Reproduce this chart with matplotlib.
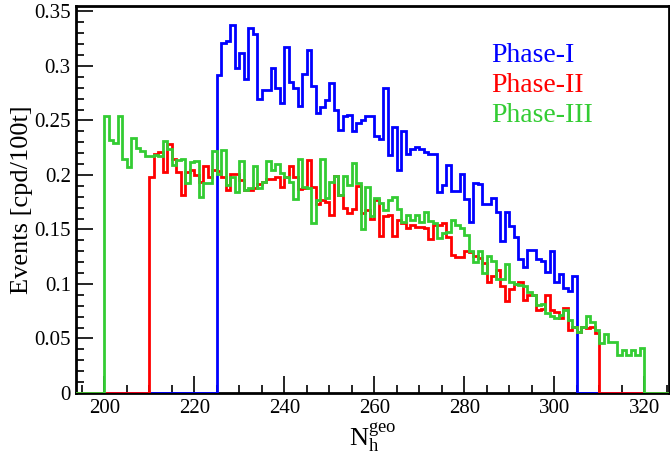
import numpy as np
import matplotlib
matplotlib.use('Agg')
from matplotlib import pyplot as plt
from matplotlib.ticker import MultipleLocator

# N_h^geo bins (width 1), values in cpd/100t
phase1_start = 225
phase1 = [0.292, 0.321, 0.323, 0.338, 0.298, 0.312, 0.288, 0.335, 0.329, 0.270,
          0.278, 0.278, 0.298, 0.280, 0.266, 0.317, 0.285, 0.280, 0.263, 0.293,
          0.315, 0.282, 0.257, 0.262, 0.269, 0.284, 0.260, 0.241, 0.254, 0.255,
          0.240, 0.248, 0.250, 0.254, 0.254, 0.236, 0.233, 0.280, 0.218, 0.244,
          0.205, 0.240, 0.219, 0.224, 0.226, 0.224, 0.221, 0.219, 0.219, 0.184,
          0.191, 0.209, 0.185, 0.185, 0.201, 0.178, 0.157, 0.193, 0.192, 0.173,
          0.173, 0.179, 0.166, 0.139, 0.166, 0.153, 0.143, 0.123, 0.116, 0.131,
          0.131, 0.123, 0.121, 0.111, 0.130, 0.102, 0.109, 0.096, 0.094, 0.107]

phase2_start = 210
phase2 = [0.198, 0.219, 0.221, 0.203, 0.228, 0.215, 0.203, 0.182, 0.203, 0.205,
          0.200, 0.194, 0.208, 0.198, 0.205, 0.204, 0.198, 0.186, 0.201, 0.201,
          0.195, 0.186, 0.186, 0.188, 0.192, 0.194, 0.196, 0.196, 0.198, 0.189,
          0.198, 0.208, 0.198, 0.187, 0.188, 0.214, 0.189, 0.173, 0.177, 0.175,
          0.163, 0.199, 0.182, 0.170, 0.165, 0.169, 0.190, 0.165, 0.168, 0.160,
          0.177, 0.144, 0.162, 0.163, 0.144, 0.159, 0.156, 0.151, 0.154, 0.152,
          0.152, 0.151, 0.141, 0.154, 0.154, 0.156, 0.143, 0.127, 0.125, 0.125,
          0.130, 0.129, 0.126, 0.124, 0.119, 0.102, 0.107, 0.113, 0.098, 0.084,
          0.095, 0.100, 0.102, 0.085, 0.090, 0.090, 0.076, 0.077, 0.090, 0.076,
          0.074, 0.069, 0.078, 0.058, 0.061, 0.056, 0.061, 0.060, 0.061, 0.055]

phase3_start = 200
phase3 = [0.254, 0.232, 0.229, 0.254, 0.215, 0.207, 0.234, 0.225, 0.222, 0.217,
          0.217, 0.218, 0.217, 0.231, 0.224, 0.209, 0.214, 0.215, 0.193, 0.212,
          0.213, 0.180, 0.193, 0.193, 0.222, 0.201, 0.223, 0.191, 0.198, 0.184,
          0.213, 0.186, 0.188, 0.208, 0.188, 0.194, 0.213, 0.205, 0.210, 0.202,
          0.198, 0.194, 0.178, 0.215, 0.189, 0.188, 0.156, 0.177, 0.215, 0.179,
          0.194, 0.199, 0.182, 0.199, 0.191, 0.211, 0.193, 0.150, 0.189, 0.162,
          0.179, 0.174, 0.168, 0.177, 0.180, 0.169, 0.157, 0.163, 0.159, 0.163,
          0.157, 0.166, 0.158, 0.156, 0.142, 0.147, 0.148, 0.159, 0.154, 0.151,
          0.145, 0.130, 0.120, 0.130, 0.110, 0.126, 0.121, 0.105, 0.105, 0.118,
          0.102, 0.100, 0.099, 0.098, 0.093, 0.090, 0.081, 0.082, 0.073, 0.071,
          0.069, 0.072, 0.076, 0.067, 0.061, 0.056, 0.061, 0.071, 0.065, 0.058,
          0.046, 0.054, 0.047, 0.047, 0.035, 0.039, 0.035, 0.039, 0.035, 0.041]

labels = ['Phase-I', 'Phase-II', 'Phase-III']
colors = ['#0000ff', '#ff0000', '#33cc33']

plt.rcParams['font.family'] = ['Liberation Serif', 'DejaVu Serif']
plt.rcParams['mathtext.fontset'] = 'custom'
plt.rcParams['mathtext.rm'] = 'Liberation Serif'
plt.rcParams['mathtext.it'] = 'Liberation Serif:italic'

lo, hi = 193, 327
edges = np.arange(lo, hi + 1)


def full_hist(start, vals):
    h = np.zeros(hi - lo)
    h[start - lo:start - lo + len(vals)] = vals
    return h


fig = plt.figure(figsize=(6.70, 4.61), dpi=100)
ax = fig.add_axes([0.114, 0.1475, 0.8845, 0.8395])

for start, vals, c in zip([phase1_start, phase2_start, phase3_start],
                          [phase1, phase2, phase3], colors):
    ax.stairs(full_hist(start, vals), edges, color=c, lw=2, zorder=3)

ax.set_xlim(193.8, 325.5)
ax.set_ylim(0, 0.355)
ax.xaxis.set_major_locator(MultipleLocator(20))
ax.xaxis.set_minor_locator(MultipleLocator(5))
ax.yaxis.set_minor_locator(MultipleLocator(0.01))
ax.set_yticks(np.arange(0, 0.36, 0.05))
ax.set_yticklabels(['0', '0.05', '0.1', '0.15', '0.2', '0.25', '0.3', '0.35'])
ax.tick_params(which='major', direction='in', length=12, width=1.2, labelsize=15, pad=4)
ax.tick_params(which='minor', direction='in', length=6, width=1.2)
for s in ax.spines.values():
    s.set_linewidth(2)

ax.set_ylabel('Events [cpd/100t]', fontsize=19, labelpad=1)
ax.set_xlabel(r'$\mathrm{N_h^{geo}}$', fontsize=19, labelpad=3)

for i, (t, c) in enumerate(zip(labels, colors)):
    ax.text(0.70, 0.856 - i * 0.078, t, color=c, fontsize=20, va='baseline',
            transform=ax.transAxes)

fig.savefig('out.png', dpi=100)
